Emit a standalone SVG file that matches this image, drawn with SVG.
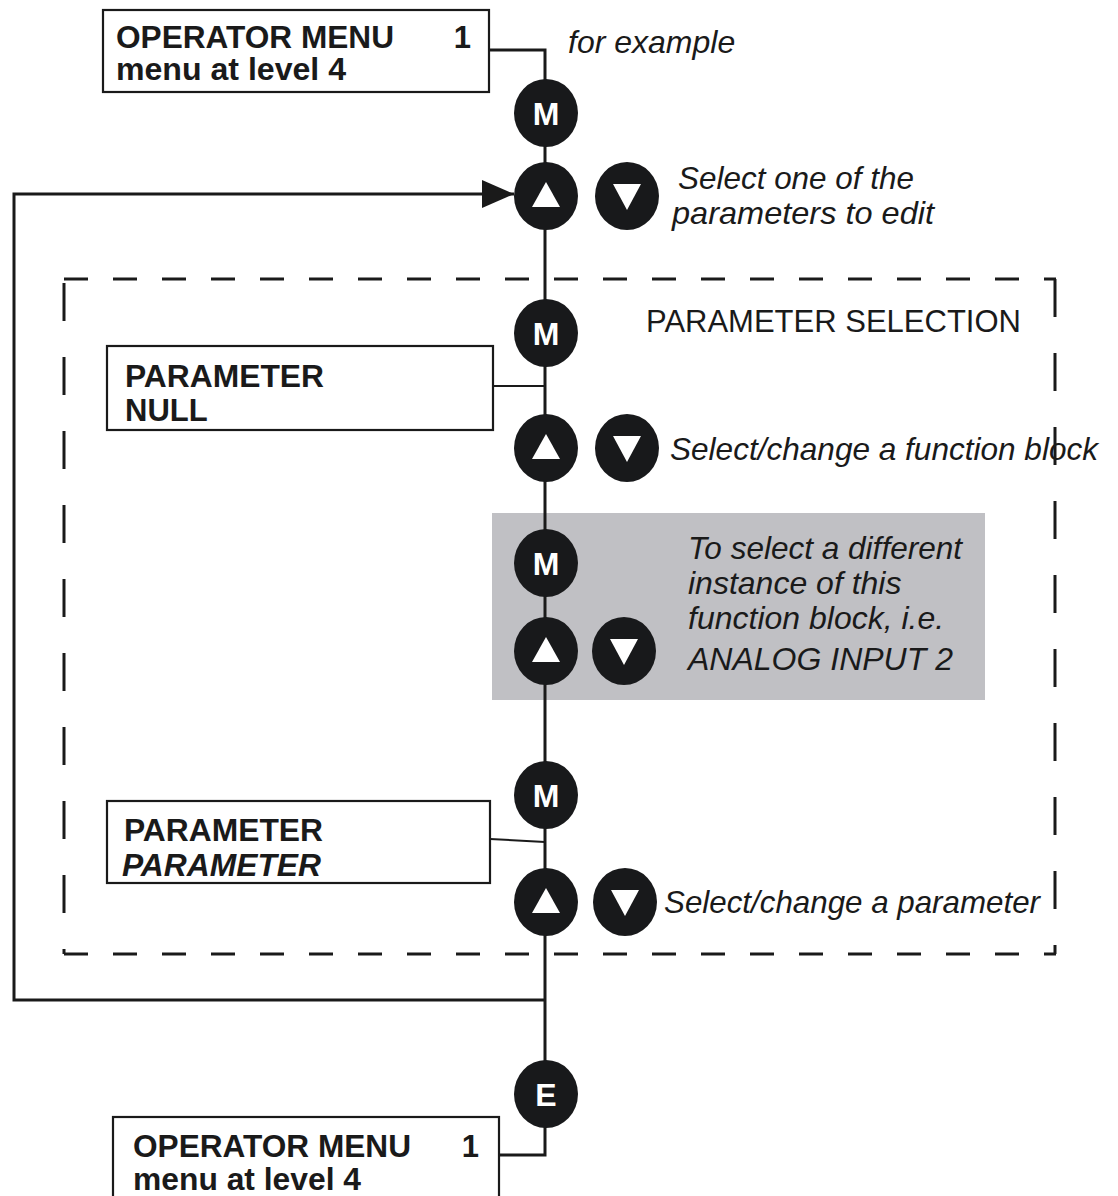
<svg xmlns="http://www.w3.org/2000/svg" xmlns:xlink="http://www.w3.org/1999/xlink" width="1118" height="1196" viewBox="0 0 1118 1196">
  <style>
    .box { fill: #ffffff; stroke: #1a1a1a; stroke-width: 2.2; }
    .conn { fill: none; stroke: #1a1a1a; stroke-width: 3; }
    .thin { fill: none; stroke: #1a1a1a; stroke-width: 2; }
    .dashh { fill: none; stroke: #1a1a1a; stroke-width: 3; stroke-dasharray: 24 25; }
    .dashv { fill: none; stroke: #1a1a1a; stroke-width: 3; stroke-dasharray: 38 36; }
    .btn { fill: #18191b; }
    .tri { fill: #ffffff; }
    .key { font-family: "Liberation Sans", Arial, sans-serif; font-weight: bold; font-size: 32px; fill: #ffffff; text-anchor: middle; }
    .bold { font-family: "Liberation Sans", Arial, sans-serif; font-weight: bold; font-size: 31px; fill: #1a1a1a; }
    .bi { font-family: "Liberation Sans", Arial, sans-serif; font-weight: bold; font-style: italic; font-size: 31px; fill: #1a1a1a; }
    .ital { font-family: "Liberation Sans", Arial, sans-serif; font-style: italic; font-size: 32px; fill: #1a1a1a; }
    .reg { font-family: "Liberation Sans", Arial, sans-serif; font-size: 31px; fill: #1a1a1a; }
  </style>
  <defs>
    <marker id="arrow" viewBox="0 0 32 28" refX="32" refY="14" markerWidth="32" markerHeight="28" markerUnits="userSpaceOnUse" orient="auto">
      <path d="M0,0 L32,14 L0,28 z" fill="#1a1a1a"/>
    </marker>
    <g id="upBtn">
      <ellipse class="btn" cx="0" cy="0" rx="32" ry="34"/>
      <polygon class="tri" points="0,-14 -14,11 14,11"/>
    </g>
    <g id="downBtn">
      <ellipse class="btn" cx="0" cy="0" rx="32" ry="34"/>
      <polygon class="tri" points="-14,-12 14,-12 0,14"/>
    </g>
  </defs>

  <rect width="1118" height="1196" fill="#ffffff"/>

  <!-- grey region -->
  <g id="instance-region">
    <rect x="492" y="513" width="493" height="187" fill="#c0c0c4"/>
  </g>

  <!-- dashed PARAMETER SELECTION region -->
  <g id="parameter-selection">
    <line class="dashh" x1="64" y1="279" x2="1056" y2="279"/>
    <line class="dashh" x1="64" y1="954" x2="1056" y2="954"/>
    <line class="dashv" x1="64" y1="283" x2="64" y2="954"/>
    <line class="dashv" x1="1055" y1="279" x2="1055" y2="954"/>
    <text class="reg" x="646" y="332">PARAMETER SELECTION</text>
  </g>

  <!-- connectors -->
  <g id="connectors">
    <polyline class="conn" points="489,50 545,50 545,1155 499,1155"/>
    <line class="thin" x1="493" y1="386" x2="545" y2="386"/>
    <line class="thin" x1="490" y1="839" x2="545" y2="842"/>
    <polyline class="conn" points="545,1000 14,1000 14,194 514,194" marker-end="url(#arrow)"/>
  </g>

  <!-- display boxes -->
  <g id="box-operator-top">
    <rect class="box" x="103" y="10" width="386" height="82"/>
    <text class="bold" x="116" y="48" textLength="278" lengthAdjust="spacingAndGlyphs">OPERATOR MENU</text>
    <text class="bold" x="471" y="48" text-anchor="end">1</text>
    <text class="bold" x="116" y="80" textLength="230" lengthAdjust="spacingAndGlyphs">menu at level 4</text>
  </g>
  <g id="box-parameter-null">
    <rect class="box" x="107" y="346" width="386" height="84"/>
    <text class="bold" x="125" y="387" textLength="199" lengthAdjust="spacingAndGlyphs">PARAMETER</text>
    <text class="bold" x="125" y="421">NULL</text>
  </g>
  <g id="box-parameter-parameter">
    <rect class="box" x="107" y="801" width="383" height="82"/>
    <text class="bold" x="124" y="841" textLength="199" lengthAdjust="spacingAndGlyphs">PARAMETER</text>
    <text class="bi" x="122" y="876" textLength="199" lengthAdjust="spacingAndGlyphs">PARAMETER</text>
  </g>
  <g id="box-operator-bottom">
    <rect class="box" x="113" y="1117" width="386" height="90"/>
    <text class="bold" x="133" y="1157" textLength="278" lengthAdjust="spacingAndGlyphs">OPERATOR MENU</text>
    <text class="bold" x="479" y="1157" text-anchor="end">1</text>
    <text class="bold" x="133" y="1190" textLength="228" lengthAdjust="spacingAndGlyphs">menu at level 4</text>
  </g>

  <!-- keys -->
  <g id="key-m1"><ellipse class="btn" cx="546" cy="113" rx="32" ry="34"/><text class="key" x="546" y="125">M</text></g>
  <g id="key-up1"><use xlink:href="#upBtn" x="546" y="196"/></g>
  <g id="key-down1"><use xlink:href="#downBtn" x="627" y="196"/></g>
  <g id="label-example"><text class="ital" x="568" y="53">for example</text></g>
  <g id="label-select-param">
    <text class="ital" x="678" y="189" font-size="31" textLength="236" lengthAdjust="spacingAndGlyphs">Select one of the</text>
    <text class="ital" x="672" y="224" font-size="31" textLength="262" lengthAdjust="spacingAndGlyphs">parameters to edit</text>
  </g>

  <g id="key-m2"><ellipse class="btn" cx="546" cy="333" rx="32" ry="34"/><text class="key" x="546" y="345">M</text></g>
  <g id="key-up2"><use xlink:href="#upBtn" x="546" y="448"/></g>
  <g id="key-down2"><use xlink:href="#downBtn" x="627" y="448"/></g>
  <g id="label-function-block"><text class="ital" x="670" y="460" textLength="428" lengthAdjust="spacingAndGlyphs">Select/change a function block</text></g>

  <g id="key-m3"><ellipse class="btn" cx="546" cy="563" rx="32" ry="34"/><text class="key" x="546" y="575">M</text></g>
  <g id="key-up3"><use xlink:href="#upBtn" x="546" y="651"/></g>
  <g id="key-down3"><use xlink:href="#downBtn" x="624" y="651"/></g>
  <g id="label-instance">
    <text class="ital" x="688" y="559" textLength="274" lengthAdjust="spacingAndGlyphs">To select a different</text>
    <text class="ital" x="688" y="594">instance of this</text>
    <text class="ital" x="688" y="629">function block, i.e.</text>
    <text class="ital" x="688" y="670">ANALOG INPUT 2</text>
  </g>

  <g id="key-m4"><ellipse class="btn" cx="546" cy="795" rx="32" ry="34"/><text class="key" x="546" y="807">M</text></g>
  <g id="key-up4"><use xlink:href="#upBtn" x="546" y="902"/></g>
  <g id="key-down4"><use xlink:href="#downBtn" x="625" y="902"/></g>
  <g id="label-parameter"><text class="ital" x="664" y="913" textLength="376" lengthAdjust="spacingAndGlyphs">Select/change a parameter</text></g>

  <g id="key-e"><ellipse class="btn" cx="546" cy="1094" rx="32" ry="34"/><text class="key" x="546" y="1106">E</text></g>
</svg>
